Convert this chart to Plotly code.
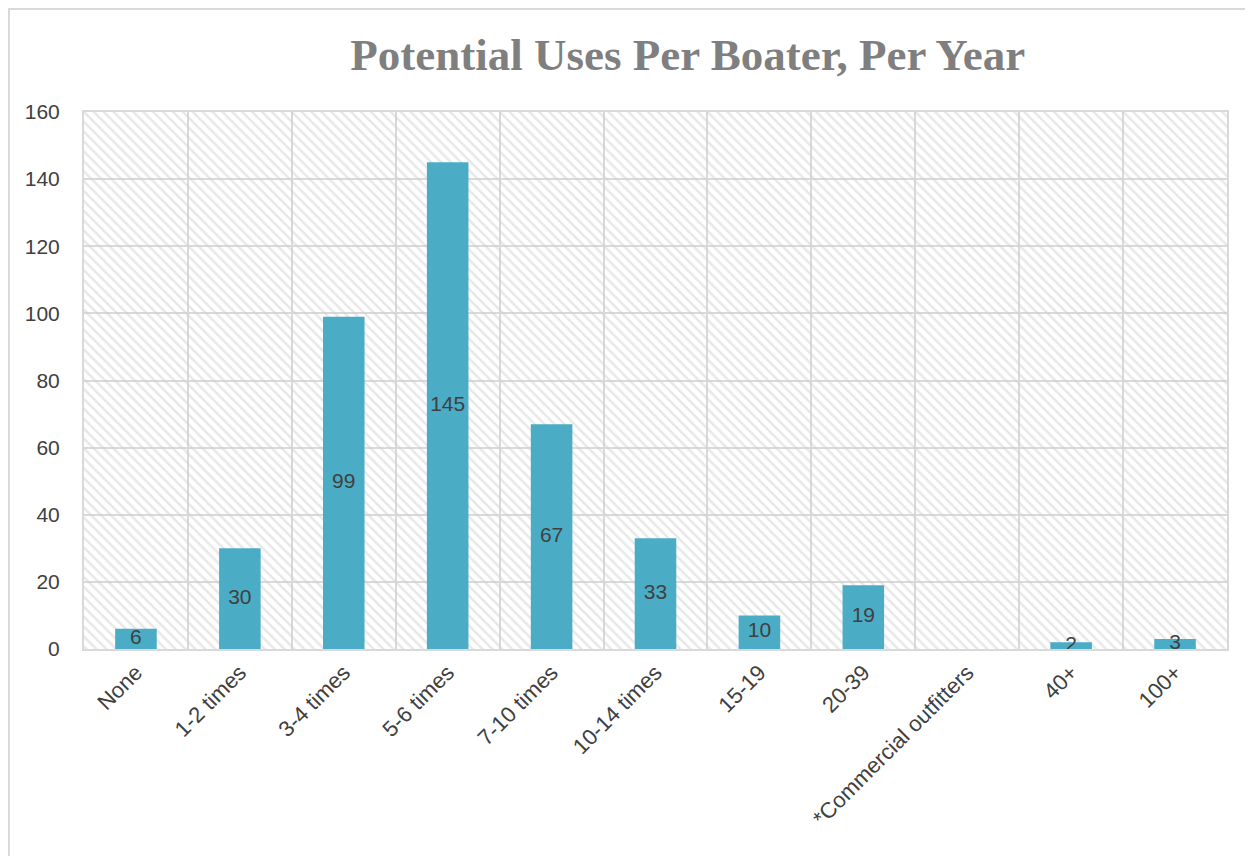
import plotly.graph_objects as go

categories = ["None", "1-2 times", "3-4 times", "5-6 times", "7-10 times", "10-14 times",
              "15-19", "20-39", "*Commercial outfitters", "40+", "100+"]
values = [6, 30, 99, 145, 67, 33, 10, 19, None, 2, 3]
y_ticks = [0, 20, 40, 60, 80, 100, 120, 140, 160]
y_max = 160

bar_color = "#4BACC6"
text_color = "#404040"
grid_color = "#d9d9d9"

W, H = 1245, 848
L, T = 76, 104
PW, PH = 1143, 537

fig = go.Figure()

# hatched plot-area background
fig.add_trace(go.Bar(
    x=categories, y=[y_max] * len(categories), width=1,
    marker=dict(color="rgba(0,0,0,0)", line=dict(width=0),
                pattern=dict(shape="\\", fgcolor="#cfcfcf", bgcolor="rgba(0,0,0,0)",
                             size=7, solidity=0.35, fillmode="overlay")),
    hoverinfo="skip", showlegend=False,
))

fig.add_trace(go.Bar(
    x=categories, y=values, width=0.4,
    marker=dict(color=bar_color, line=dict(width=0)),
    showlegend=False,
))

lab_x = [c for c, v in zip(categories, values) if v is not None]
lab_v = [v for v in values if v is not None]
fig.add_trace(go.Scatter(
    x=lab_x, y=[v / 2 for v in lab_v], text=[str(v) for v in lab_v],
    mode="text", textposition="middle center",
    textfont=dict(family="Liberation Sans, Arial", size=21, color=text_color),
    showlegend=False, hoverinfo="skip",
))

fig.update_layout(
    width=W, height=H,
    margin=dict(l=L, r=W - L - PW, t=T, b=H - T - PH),
    paper_bgcolor="white", plot_bgcolor="white",
    barmode="overlay",
    title=dict(text="Potential Uses Per Boater, Per Year",
               font=dict(family="Liberation Serif, serif", size=45, color="#7f7f7f", weight="bold"),
               x=0.546, xanchor="center", y=0.945, yanchor="middle"),
    xaxis=dict(type="category", tickson="boundaries", showgrid=True, gridcolor=grid_color,
               gridwidth=2, tickangle=-45, ticks="",
               tickfont=dict(family="Liberation Sans, Arial", size=22, color=text_color),
               showline=True, linecolor=grid_color, linewidth=2, mirror=True,
               range=[-0.5, len(categories) - 0.5]),
    yaxis=dict(range=[0, y_max], tickvals=y_ticks, showgrid=True, gridcolor=grid_color,
               gridwidth=2, zeroline=False, ticks="",
               tickfont=dict(family="Liberation Sans, Arial", size=21, color=text_color),
               showline=True, linecolor=grid_color, linewidth=2, mirror=True,
               ticklabelstandoff=18),
    shapes=[dict(type="rect", xref="paper", yref="paper",
                 x0=(1 - L) / PW, x1=1.2, y0=-1, y1=1 + (T - 1) / PH,
                 line=dict(color="#d9d9d9", width=2), fillcolor="rgba(0,0,0,0)", layer="below")],
)

fig.write_html("out.html")
